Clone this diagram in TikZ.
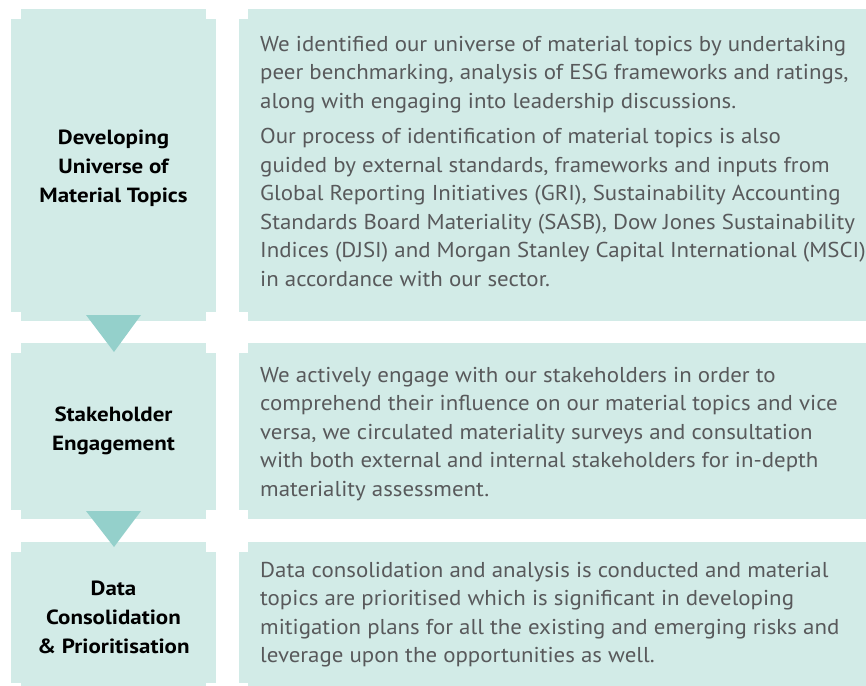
\documentclass[tikz,border=0pt]{standalone}
\usepackage{fontspec}
\setmainfont{PT Sans}[FakeStretch=1.065]
\newfontfamily\labelfont{PT Sans}[FakeStretch=1.12]
\usetikzlibrary{positioning}
\definecolor{boxfill}{HTML}{D2EBE7}
\definecolor{arrowfill}{HTML}{94D0CB}
\definecolor{bodygrey}{HTML}{58595B}

% notched panel on the left column
\newcommand{\notchbox}[4]{%
  \fill[panel] (#1,#2+10) rectangle (#3,#4-9);
  \fill[panel] (#1+10,#2) rectangle (#3-10,#4);}
% panel on the right column, notched on its left side only
\newcommand{\textpanel}[2]{%
  \fill[panel] (239,#1+10) rectangle (866,#2-9);
  \fill[panel] (248,#1) rectangle (866,#2);}

\begin{document}
\begin{tikzpicture}[x=1pt,y=-1pt,
    panel/.style={fill=boxfill, draw=none},
    pointer/.style={fill=arrowfill, draw=none},
    stagelabel/.style={align=center, inner sep=0pt, text=black,
      font=\labelfont\fontsize{20.5}{29}\selectfont\bfseries},
    stagetext/.style={align=left, inner sep=0pt, anchor=north west, text=bodygrey,
      font=\fontsize{21.5}{28.5}\selectfont}]
    \useasboundingbox (0,0) rectangle (866,685);
    \begin{scope}
        \clip (0,0) rectangle (866,685);
        \notchbox{11}{9}{216}{321}
        \notchbox{11}{343}{216}{519}
        \notchbox{11}{542}{216}{692}
        \textpanel{9}{321}
        \textpanel{343}{519}
        \textpanel{542}{692}
    \end{scope}

    \fill[pointer] (86,315) -- (141,315) -- (114,352) -- cycle;
    \fill[pointer] (86,511) -- (141,511) -- (114,547) -- cycle;

    \node[stagelabel] (develop) at (113.5,168) {Developing\\Universe of\\Material Topics};
    \node[stagelabel] (engage) at (113.5,431) {Stakeholder\\Engagement};
    \node[stagelabel] (prioritise) at (113.5,617) {Data\\Consolidation\\\& Prioritisation};

    \node[stagetext] (developtext) at (260,36) {We identified our universe of material topics by undertaking\\
        peer benchmarking, analysis of ESG frameworks and ratings,\\
        along with engaging into leadership discussions.\\[7pt]
        Our process of identification of material topics is also\\
        guided by external standards, frameworks and inputs from\\
        Global Reporting Initiatives (GRI), Sustainability Accounting\\
        Standards Board Materiality (SASB), Dow Jones Sustainability\\
        Indices (DJSI) and Morgan Stanley Capital International (MSCI)\\
        in accordance with our sector.};
    \node[stagetext] (engagetext) at (260,367) {We actively engage with our stakeholders in order to\\
        comprehend their influence on our material topics and vice\\
        versa, we circulated materiality surveys and consultation\\
        with both external and internal stakeholders for in-depth\\
        materiality assessment.};
    \node[stagetext] (prioritisetext) at (260,562) {Data consolidation and analysis is conducted and material\\
        topics are prioritised which is significant in developing\\
        mitigation plans for all the existing and emerging risks and\\
        leverage upon the opportunities as well.};
\end{tikzpicture}
\end{document}
